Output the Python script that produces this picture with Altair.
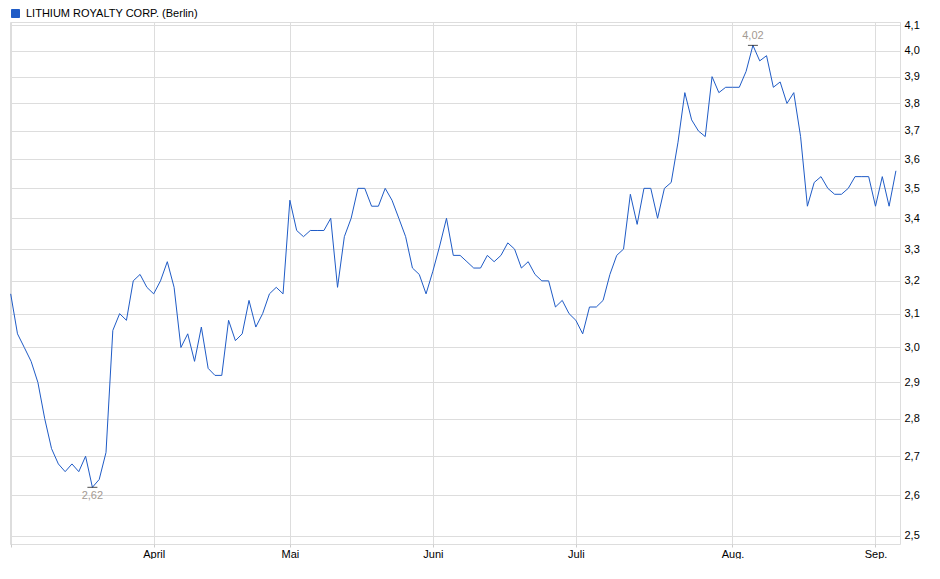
import altair as alt
import pandas as pd

# Closing prices (EUR), one per trading day
prices = [
    3.16, 3.04, 3.00, 2.96, 2.90, 2.80, 2.72, 2.68, 2.66, 2.68,
    2.66, 2.70, 2.62, 2.64, 2.71, 3.05, 3.10, 3.08, 3.20, 3.22,
    3.18, 3.16, 3.20, 3.26, 3.18, 3.00, 3.04, 2.96, 3.06, 2.94,
    2.92, 2.92, 3.08, 3.02, 3.04, 3.14, 3.06, 3.10, 3.16, 3.18,
    3.16, 3.46, 3.36, 3.34, 3.36, 3.36, 3.36, 3.40, 3.18, 3.34,
    3.40, 3.50, 3.50, 3.44, 3.44, 3.50, 3.46, 3.40, 3.34, 3.24,
    3.22, 3.16, 3.23, 3.31, 3.40, 3.28, 3.28, 3.26, 3.24, 3.24,
    3.28, 3.26, 3.28, 3.32, 3.30, 3.24, 3.26, 3.22, 3.20, 3.20,
    3.12, 3.14, 3.10, 3.08, 3.04, 3.12, 3.12, 3.14, 3.22, 3.28,
    3.30, 3.48, 3.38, 3.50, 3.50, 3.40, 3.50, 3.52, 3.66, 3.84,
    3.74, 3.70, 3.68, 3.90, 3.84, 3.86, 3.86, 3.86, 3.92, 4.02,
    3.96, 3.98, 3.86, 3.88, 3.80, 3.84, 3.68, 3.44, 3.52, 3.54,
    3.50, 3.48, 3.48, 3.50, 3.54, 3.54, 3.54, 3.44, 3.54, 3.44,
    3.56,
]
# Trading-day index of the first trading day of each month
month_ticks = [0, 21, 41, 62, 83, 106, 127]
month_labels = ["", "April", "Mai", "Juni", "Juli", "Aug.", "Sep."]
y_ticks = [2.5, 2.6, 2.7, 2.8, 2.9, 3.0, 3.1, 3.2, 3.3, 3.4, 3.5,
           3.6, 3.7, 3.8, 3.9, 4.0, 4.1]
series_name = "LITHIUM ROYALTY CORP. (Berlin)"

df = pd.DataFrame({
    "idx": list(range(len(prices))),
    "price": prices,
    "series": series_name,
})
imin = int(df["price"].idxmin())
imax = int(df["price"].idxmax())
ext = pd.DataFrame({
    "idx": [imin, imax],
    "price": [prices[imin], prices[imax]],
    "kind": ["min", "max"],
})
ext["label"] = ext["price"].map(lambda v: f"{v:.2f}".replace(".", ","))

FONT = "Liberation Sans"
LINE_COLOR = "#1f5bc6"

x_label_expr = (
    "[" + ",".join(f"'{l}'" for l in month_labels) + "]"
    + "[indexof([" + ",".join(str(t) for t in month_ticks) + "], datum.value)]"
)

x_enc = alt.X(
    "idx:Q",
    scale=alt.Scale(domain=[-0.1, 130.6], nice=False, zero=False),
    axis=alt.Axis(
        values=month_ticks,
        labelExpr=x_label_expr,
        title=None,
        grid=True,
        gridColor="#dddddd",
        domain=False,
        ticks=True,
        tickSize=3,
        tickColor="#cccccc",
        labelPadding=1,
        labelFlush=False,
        labelOverlap=False,
        labelFont=FONT,
        labelFontSize=11,
        labelColor="#000000",
    ),
)
y_scale = alt.Scale(type="log", domain=[2.48, 4.112], nice=False, zero=False)
y_enc = alt.Y(
    "price:Q",
    scale=y_scale,
    axis=alt.Axis(
        orient="right",
        values=y_ticks,
        labelExpr="replace(format(datum.value, '.1f'), '.', ',')",
        title=None,
        grid=True,
        gridColor="#dddddd",
        domain=False,
        ticks=False,
        labelPadding=4,
        labelOverlap=False,
        labelFont=FONT,
        labelFontSize=11,
        labelColor="#000000",
    ),
)

line = alt.Chart(df).mark_line(strokeWidth=1, interpolate="linear").encode(
    x=x_enc,
    y=y_enc,
    color=alt.Color(
        "series:N",
        scale=alt.Scale(range=[LINE_COLOR]),
        legend=alt.Legend(
            orient="top",
            title=None,
            symbolType="square",
            symbolSize=64,
            symbolFillColor=LINE_COLOR,
            symbolStrokeColor="#0b2a66",
            symbolStrokeWidth=1,
            labelFont=FONT,
            labelFontSize=11,
            labelColor="#000000",
            labelLimit=0,
            labelOffset=5,
            offset=2,
            padding=0,
        ),
    ),
)

ticks = alt.Chart(ext).mark_tick(
    orient="horizontal", size=10, thickness=1, color="#000000"
).encode(x="idx:Q", y=alt.Y("price:Q", scale=y_scale))

lbl_min = alt.Chart(ext).transform_filter("datum.kind == 'min'").mark_text(
    dy=9, baseline="middle", align="center", font=FONT, fontSize=11, color="#a39a92"
).encode(x="idx:Q", y=alt.Y("price:Q", scale=y_scale), text="label:N")

lbl_max = alt.Chart(ext).transform_filter("datum.kind == 'max'").mark_text(
    dy=-9, baseline="middle", align="center", font=FONT, fontSize=11, color="#a39a92"
).encode(x="idx:Q", y=alt.Y("price:Q", scale=y_scale), text="label:N")

chart = alt.layer(line, ticks, lbl_min, lbl_max).properties(
    width=890,
    height=522,
    padding=0,
).configure_view(
    stroke="#d4d4d4",
    strokeWidth=1,
).configure(
    background="#ffffff",
)

chart.save("out.html", embed_options={"renderer": "svg", "actions": False})
